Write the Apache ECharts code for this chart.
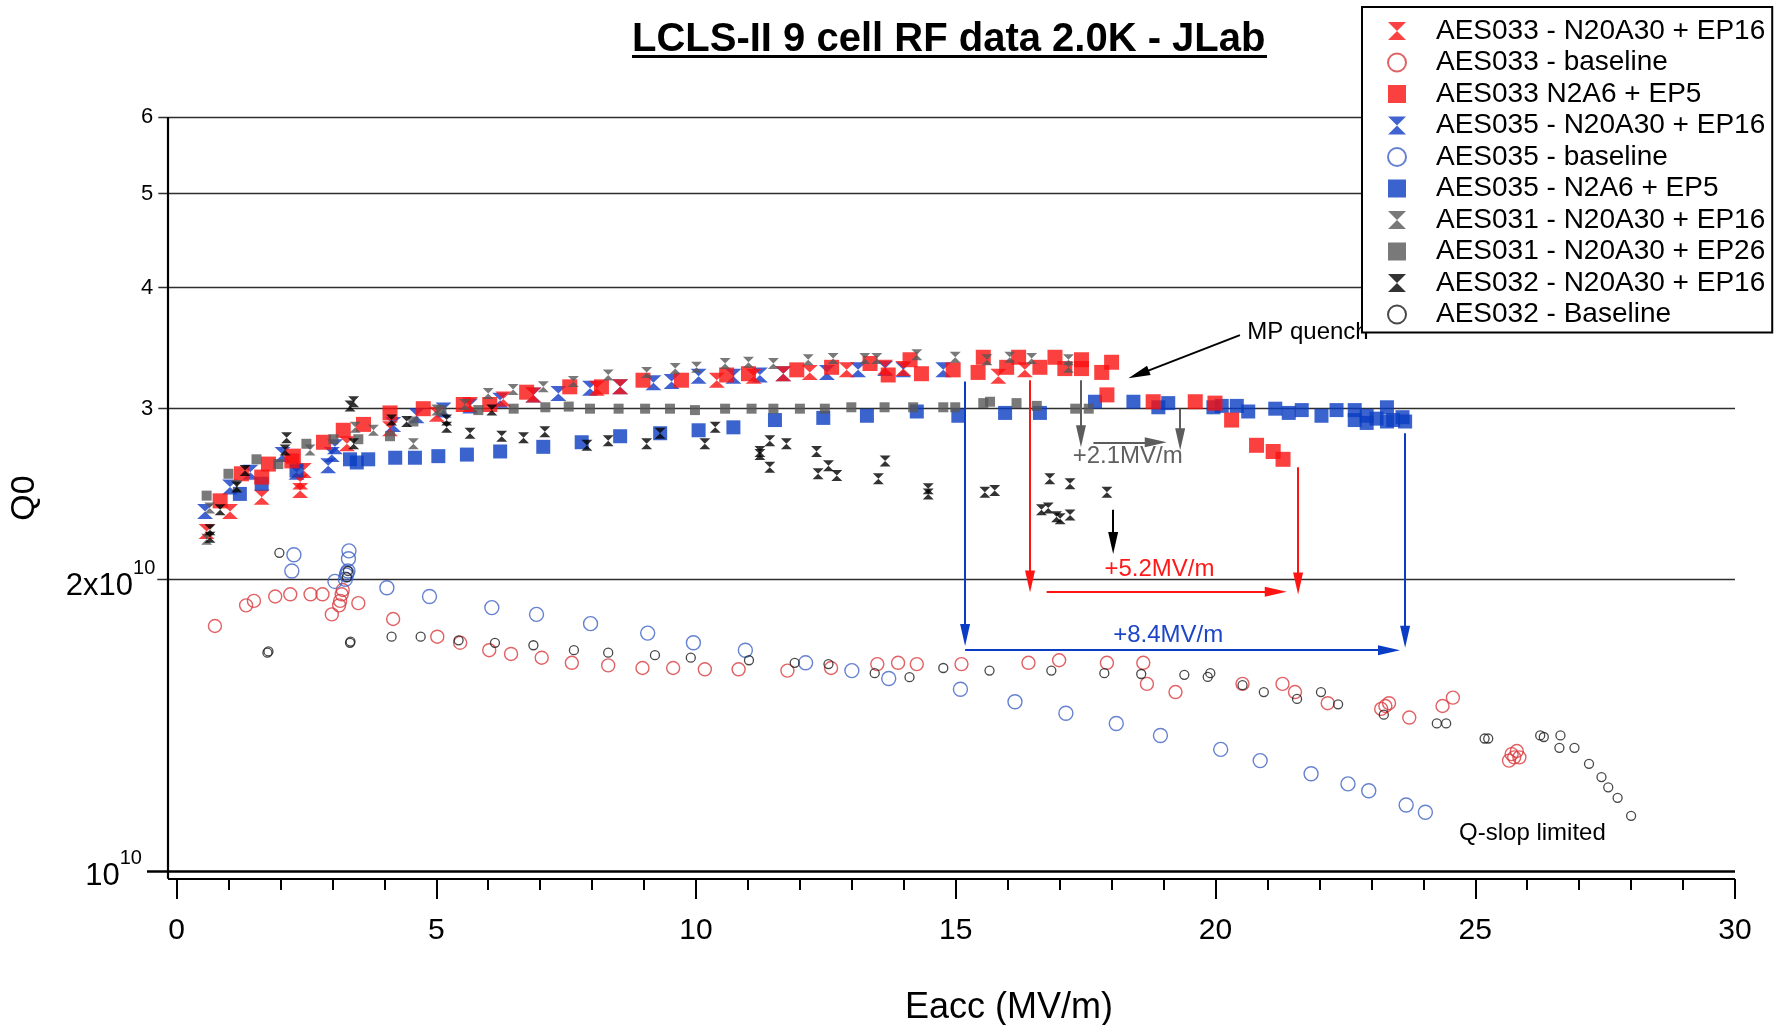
<!DOCTYPE html>
<html>
<head>
<meta charset="utf-8">
<title>LCLS-II 9 cell RF data 2.0K - JLab</title>
<script src="https://cdn.jsdelivr.net/npm/echarts@6/dist/echarts.min.js"></script>
<style>
  html, body { margin: 0; padding: 0; background: #fff; }
  #chart { width: 1786px; height: 1025px; }
</style>
</head>
<body>
<div id="chart"></div>
<script>
// ---- data: [Eacc (MV/m), Q0] ----
const aes033Ep16 = [[0.58,2.24e10],[1.03,2.35e10],[1.64,2.43e10],[2.38,2.47e10],[2.38,2.52e10],[2.45,2.59e10],[3.28,2.76e10],[4.11,2.86e10],[5.01,2.96e10],[5.65,3.03e10],[6.29,3.07e10],[6.87,3.10e10],[8.09,3.15e10],[8.54,3.16e10],[10.40,3.21e10],[11.11,3.24e10],[11.68,3.26e10],[12.19,3.27e10],[12.90,3.29e10],[13.64,3.31e10],[13.99,3.30e10],[15.82,3.24e10],[16.33,3.29e10]];

const aes033Base = [[0.74,1.79e10],[1.34,1.88e10],[1.49,1.90e10],[1.90,1.92e10],[2.19,1.93e10],[2.58,1.93e10],[2.81,1.93e10],[2.99,1.84e10],[3.13,1.88e10],[3.15,1.90e10],[3.18,1.93e10],[3.20,1.95e10],[3.50,1.89e10],[4.17,1.82e10],[5.02,1.745e10],[5.46,1.72e10],[6.02,1.69e10],[6.44,1.675e10],[7.03,1.66e10],[7.61,1.64e10],[8.31,1.63e10],[8.97,1.62e10],[9.56,1.62e10],[10.17,1.615e10],[10.82,1.615e10],[11.76,1.61e10],[12.60,1.62e10],[13.49,1.635e10],[13.89,1.64e10],[14.25,1.635e10],[15.11,1.635e10],[16.40,1.64e10],[16.99,1.65e10],[17.91,1.64e10],[18.61,1.64e10],[18.68,1.56e10],[19.23,1.53e10],[20.52,1.56e10],[21.29,1.56e10],[21.53,1.53e10],[22.16,1.49e10],[23.19,1.47e10],[23.27,1.48e10],[23.34,1.49e10],[23.73,1.44e10],[24.37,1.48e10],[24.57,1.51e10],[25.65,1.30e10],[25.70,1.32e10],[25.75,1.31e10],[25.80,1.33e10],[25.85,1.31e10]];

const aes033N2A6 = [[0.84,2.41e10],[1.25,2.57e10],[1.64,2.55e10],[1.77,2.63e10],[2.22,2.65e10],[2.25,2.68e10],[2.83,2.77e10],[3.21,2.85e10],[3.60,2.89e10],[4.11,2.97e10],[4.75,3.00e10],[5.52,3.03e10],[6.03,3.03e10],[6.74,3.12e10],[7.57,3.16e10],[8.18,3.16e10],[8.98,3.21e10],[9.72,3.21e10],[10.59,3.25e10],[11.01,3.26e10],[11.94,3.29e10],[12.61,3.31e10],[13.35,3.34e10],[13.70,3.25e10],[14.12,3.37e10],[14.34,3.26e10],[14.95,3.29e10],[15.43,3.27e10],[15.53,3.39e10],[15.98,3.31e10],[16.21,3.39e10],[16.62,3.31e10],[16.91,3.39e10],[17.10,3.30e10],[17.42,3.37e10],[17.42,3.30e10],[17.81,3.27e10],[18.00,3.35e10],[17.91,3.10e10],[18.80,3.05e10],[19.61,3.05e10],[19.99,3.04e10],[20.31,2.92e10],[20.79,2.75e10],[21.11,2.71e10],[21.30,2.66e10]];

const aes035Ep16 = [[0.55,2.35e10],[1.03,2.49e10],[1.42,2.58e10],[2.04,2.69e10],[2.31,2.58e10],[2.92,2.62e10],[2.99,2.69e10],[3.05,2.74e10],[4.17,2.89e10],[4.62,2.95e10],[5.14,2.99e10],[5.65,3.02e10],[6.23,3.06e10],[6.87,3.10e10],[7.35,3.11e10],[7.96,3.15e10],[8.54,3.16e10],[9.18,3.19e10],[9.53,3.20e10],[10.05,3.24e10],[10.72,3.24e10],[11.23,3.25e10],[11.68,3.26e10],[12.52,3.27e10],[13.12,3.29e10],[13.64,3.30e10],[13.99,3.29e10],[14.76,3.29e10]];

const aes035Base = [[2.26,2.12e10],[2.22,2.04e10],[3.05,1.99e10],[3.25,2.00e10],[3.27,2.02e10],[3.28,2.03e10],[3.30,2.04e10],[3.31,2.10e10],[3.32,2.14e10],[4.05,1.96e10],[4.87,1.92e10],[6.07,1.87e10],[6.93,1.84e10],[7.97,1.80e10],[9.07,1.76e10],[9.95,1.72e10],[10.95,1.69e10],[12.11,1.64e10],[13.00,1.61e10],[13.71,1.58e10],[15.09,1.54e10],[16.14,1.495e10],[17.12,1.455e10],[18.09,1.42e10],[18.94,1.38e10],[20.10,1.335e10],[20.86,1.30e10],[21.84,1.26e10],[22.55,1.23e10],[22.95,1.21e10],[23.67,1.17e10],[24.04,1.15e10]];

const aes035N2A6 = [[1.22,2.45e10],[1.64,2.51e10],[2.31,2.59e10],[3.34,2.66e10],[3.47,2.64e10],[3.69,2.66e10],[4.21,2.67e10],[4.59,2.67e10],[5.04,2.68e10],[5.59,2.69e10],[6.23,2.71e10],[7.06,2.74e10],[7.80,2.77e10],[8.54,2.81e10],[9.31,2.83e10],[10.05,2.85e10],[10.72,2.87e10],[11.52,2.92e10],[12.45,2.935e10],[13.29,2.95e10],[14.25,2.98e10],[15.05,2.95e10],[15.95,2.97e10],[16.62,2.97e10],[17.68,3.05e10],[18.42,3.05e10],[18.90,3.01e10],[19.09,3.04e10],[19.96,3.01e10],[20.12,3.02e10],[20.41,3.02e10],[20.63,2.98e10],[21.15,3.00e10],[21.41,2.97e10],[21.66,2.99e10],[22.04,2.95e10],[22.33,2.99e10],[22.68,2.99e10],[22.68,2.92e10],[22.91,2.95e10],[22.91,2.90e10],[23.10,2.93e10],[23.30,3.01e10],[23.30,2.91e10],[23.42,2.92e10],[23.60,2.94e10],[23.65,2.91e10]];

const aes031Ep16 = [[0.58,2.20e10],[0.64,2.37e10],[1.16,2.50e10],[2.57,2.72e10],[3.44,2.87e10],[3.79,2.85e10],[4.56,2.76e10],[5.01,2.99e10],[5.55,3.03e10],[6.00,3.11e10],[6.48,3.14e10],[7.06,3.16e10],[7.64,3.20e10],[8.31,3.25e10],[9.05,3.27e10],[9.60,3.30e10],[10.01,3.31e10],[10.56,3.34e10],[11.01,3.35e10],[11.49,3.34e10],[12.16,3.37e10],[12.64,3.38e10],[13.25,3.38e10],[13.48,3.38e10],[14.25,3.41e10],[14.99,3.39e10],[15.60,3.37e10],[16.04,3.39e10],[16.46,3.38e10],[17.17,3.37e10],[17.17,3.31e10]];

const aes031Ep26 = [[0.58,2.44e10],[1.00,2.57e10],[1.54,2.66e10],[1.96,2.63e10],[2.50,2.76e10],[3.02,2.79e10],[3.50,2.79e10],[4.11,2.81e10],[4.56,2.91e10],[5.10,2.99e10],[5.81,2.99e10],[6.49,3.00e10],[7.10,3.01e10],[7.55,3.015e10],[7.96,3.00e10],[8.51,3.00e10],[9.02,3.00e10],[9.50,3.00e10],[9.98,2.99e10],[10.56,3.00e10],[11.07,3.00e10],[11.49,3.00e10],[12.00,3.00e10],[12.48,3.00e10],[12.99,3.01e10],[13.63,3.01e10],[14.18,3.01e10],[14.76,3.01e10],[14.99,3.01e10],[15.53,3.04e10],[15.66,3.05e10],[16.17,3.04e10],[16.56,3.02e10],[17.30,3.00e10],[17.56,3.00e10]];

const aes032Ep16 = [[0.645,2.25e10],[0.645,2.21e10],[0.84,2.36e10],[1.16,2.49e10],[1.32,2.59e10],[2.12,2.80e10],[2.09,2.72e10],[3.34,3.02e10],[3.41,3.05e10],[3.41,2.76e10],[4.14,2.92e10],[4.43,2.91e10],[5.20,2.87e10],[5.20,2.92e10],[5.65,2.83e10],[6.07,2.99e10],[6.26,2.81e10],[6.68,2.80e10],[7.09,2.84e10],[7.90,2.75e10],[8.31,2.78e10],[9.05,2.76e10],[9.31,2.83e10],[10.17,2.76e10],[10.37,2.87e10],[11.23,2.71e10],[11.23,2.69e10],[11.42,2.78e10],[11.42,2.61e10],[11.74,2.76e10],[12.32,2.71e10],[12.35,2.57e10],[12.55,2.62e10],[12.71,2.56e10],[13.51,2.54e10],[13.64,2.65e10],[14.47,2.48e10],[14.47,2.45e10],[15.56,2.46e10],[15.75,2.47e10],[16.81,2.54e10],[17.20,2.51e10],[16.65,2.36e10],[16.78,2.37e10],[16.94,2.32e10],[17.01,2.31e10],[17.20,2.33e10],[17.91,2.46e10]];

const aes032Base = [[1.98,2.13e10],[1.75,1.68e10],[1.77,1.685e10],[3.30,2.04e10],[3.28,2.01e10],[3.34,1.72e10],[3.35,1.725e10],[4.14,1.745e10],[4.70,1.745e10],[5.43,1.73e10],[6.13,1.72e10],[6.87,1.71e10],[7.65,1.69e10],[8.31,1.68e10],[9.21,1.67e10],[9.90,1.66e10],[11.02,1.65e10],[11.90,1.64e10],[12.55,1.635e10],[13.44,1.60e10],[14.11,1.585e10],[14.76,1.62e10],[15.65,1.61e10],[16.84,1.61e10],[17.86,1.60e10],[18.57,1.597e10],[19.40,1.594e10],[19.85,1.586e10],[19.90,1.60e10],[20.52,1.555e10],[20.93,1.53e10],[21.57,1.505e10],[22.03,1.53e10],[22.36,1.486e10],[23.24,1.45e10],[24.26,1.42e10],[24.44,1.42e10],[25.18,1.37e10],[25.25,1.37e10],[26.25,1.38e10],[26.32,1.375e10],[26.64,1.38e10],[26.62,1.34e10],[26.91,1.34e10],[27.19,1.29e10],[27.43,1.25e10],[27.56,1.22e10],[27.74,1.19e10],[28.00,1.14e10]];

// ---- axis ticks ----
const yGridValues = [1e10, 2e10, 3e10, 4e10, 5e10, 6e10];
const yGridLabels = ['{m|10}{s|10}', '{m|2x10}{s|10}', '3', '4', '5', '6'];
const xMinorTicks = [0,1,2,3,4,5,6,7,8,9,10,11,12,13,14,15,16,17,18,19,20,21,22,23,24,25,26,27,28,29,30];
const xMajorTicks = [0,5,10,15,20,25,30];

// ---- annotations (Eacc, Q0); "to" is where the arrowhead sits, rot its heading ----
const arrows = [
  { color: '#0a3cc4', from: [15.18, 3.20e10], to: [15.18, 1.752e10], rot: 0 },
  { color: '#0a3cc4', from: [15.18, 1.69e10], to: [23.34, 1.69e10], rot: 90 },
  { color: '#0a3cc4', from: [23.65, 2.83e10], to: [23.65, 1.745e10], rot: 0 },
  { color: '#ff1414', from: [16.43, 3.21e10], to: [16.43, 1.99e10], rot: 0 },
  { color: '#ff1414', from: [16.75, 1.942e10], to: [21.16, 1.942e10], rot: 90 },
  { color: '#ff1414', from: [21.59, 2.61e10], to: [21.59, 1.98e10], rot: 0 },
  { color: '#5c5c5c', from: [17.41, 3.21e10], to: [17.41, 2.81e10], rot: 0 },
  { color: '#5c5c5c', from: [19.32, 3.00e10], to: [19.32, 2.79e10], rot: 0 },
  { color: '#5c5c5c', from: [17.65, 2.77e10], to: [18.85, 2.77e10], rot: 90 },
  { color: '#000000', from: [18.03, 2.36e10], to: [18.03, 2.18e10], rot: 0 },
  { color: '#000000', from: [20.47, 3.573e10], to: [18.52, 3.255e10], rot: -68.8 }
];
const notes = [
  { text: '+8.4MV/m', at: [19.09, 1.752e10], color: '#1c46c6' },
  { text: '+5.2MV/m', at: [18.92, 2.05e10], color: '#ff1a1a' },
  { text: '+2.1MV/m', at: [18.31, 2.68e10], color: '#606060' },
  { text: 'MP quench', at: [21.78, 3.60e10], color: '#000000' },
  { text: 'Q-slop limited', at: [26.1, 1.094e10], color: '#000000' }
];

const FONT = "'Liberation Sans', Arial, Helvetica, sans-serif";
const HOURGLASS = 'path://M0,0L10,0L5,5L10,10L0,10L5,5Z';
const SQUARE = 'path://M0,0L10,0L10,10L0,10Z';
const ARROWHEAD = 'path://M0,0L10,0L5,22Z';   // points down before rotation
const X_MIN = -0.6064, X_MAX = 30;
const Y_MIN = 0.98117e10, Y_MAX = 6e10;
const X_AXISLINE = -0.164;     // Eacc where the vertical axis line sits
const Y_AXISLINE = 0.9815e10;  // Q0 where the horizontal axis line sits

function pointSeries(name, data, symbol, size, itemStyle, z) {
  return {
    name, type: 'scatter', data, symbol, symbolSize: size,
    itemStyle, z, silent: true, animation: false
  };
}
const hollow = (c, w) => ({ color: 'rgba(0,0,0,0)', borderColor: c, borderWidth: w });

const series = [
  pointSeries('AES033 - baseline', aes033Base, 'circle', 13, hollow('#d93a3d', 1.4), 2),
  pointSeries('AES035 - baseline', aes035Base, 'circle', 14, hollow('#3f62c4', 1.4), 2),
  pointSeries('AES032 - Baseline', aes032Base, 'circle', 9, hollow('#1a1a1a', 1.3), 2),
  pointSeries('AES035 - N20A30 + EP16', aes035Ep16, HOURGLASS, [16, 15], { color: '#113cc6' }, 3),
  pointSeries('AES033 - N20A30 + EP16', aes033Ep16, HOURGLASS, [16, 15], { color: '#fa1212' }, 3),
  pointSeries('AES035 - N2A6 + EP5', aes035N2A6, SQUARE, 14, { color: '#0a3cc2' }, 3),
  pointSeries('AES033 N2A6 + EP5', aes033N2A6, SQUARE, 15, { color: '#fa1010' }, 3),
  pointSeries('AES031 - N20A30 + EP26', aes031Ep26, SQUARE, 10, { color: '#575757' }, 4),
  pointSeries('AES031 - N20A30 + EP16', aes031Ep16, HOURGLASS, [11, 11], { color: '#575757' }, 4),
  pointSeries('AES032 - N20A30 + EP16', aes032Ep16, HOURGLASS, [11, 11], { color: '#000000' }, 4)
];

// frame: grid lines with their outward ticks, axis lines, tick labels
const gridStart = [-0.568, -0.37, -0.35, -0.35, -0.35, -0.35];
const frameLines = yGridValues.map((v, i) => {
  const rich = i < 2;
  return [{
    coord: [gridStart[i], v],
    lineStyle: { color: i === 0 ? '#000' : '#2e2e2e', width: i === 0 ? 2.6 : 1.4, type: 'solid' },
    label: {
      show: true, position: 'start', distance: rich ? (i === 0 ? 5 : 2) : 5,
      formatter: yGridLabels[i], color: '#000', fontFamily: FONT, fontSize: 22,
      padding: rich ? [i === 0 ? 10 : 14, 0, 0, 0] : 0,
      rich: {
        m: { fontSize: 31, lineHeight: 56, fontFamily: FONT, color: '#000' },
        s: { fontSize: 20, lineHeight: 20, fontFamily: FONT, color: '#000', verticalAlign: 'top' }
      }
    }
  }, { coord: [X_MAX, v] }];
});
frameLines.push([{ coord: [X_AXISLINE, Y_AXISLINE], lineStyle: { color: '#000', width: 2.2, type: 'solid' }, label: { show: false } }, { coord: [X_AXISLINE, Y_MAX] }]);
frameLines.push([{ coord: [X_AXISLINE, Y_AXISLINE], lineStyle: { color: '#000', width: 2.2, type: 'solid' }, label: { show: false } }, { coord: [X_MAX, Y_AXISLINE] }]);

series.push({
  name: 'frame', type: 'scatter', data: [], silent: true, animation: false, z: 1,
  markLine: {
    silent: true, animation: false, z: 1, symbol: ['none', 'none'],
    data: frameLines
  }
});

// arrow shafts
series.push({
  name: 'arrows', type: 'scatter', data: [], silent: true, animation: false, z: 5,
  markLine: {
    silent: true, animation: false, z: 5,
    symbol: ['none', 'none'],
    label: { show: false },
    data: arrows.map(a => [
      { coord: a.from, lineStyle: { color: a.color, width: 2, type: 'solid' } },
      { coord: a.to }
    ])
  },
  // arrowheads
  markPoint: {
    silent: true, animation: false, z: 6,
    symbol: ARROWHEAD, symbolSize: [10, 22],
    label: { show: false },
    data: arrows.map(a => ({ coord: a.to, symbolRotate: a.rot, itemStyle: { color: a.color } }))
  }
});

// annotation texts (kept below the legend box)
series.push({
  name: 'notes', type: 'scatter', data: [], silent: true, animation: false, z: 3,
  markPoint: {
    silent: true, animation: false, z: 3,
    symbol: 'rect', symbolSize: 1, itemStyle: { color: 'rgba(0,0,0,0)' },
    label: { show: true, position: 'inside', fontFamily: FONT, fontSize: 24 },
    data: notes.map(n => ({ coord: n.at, label: { formatter: n.text, color: n.color } }))
  }
});

const chart = echarts.init(document.getElementById('chart'), null, { renderer: 'canvas' });
chart.setOption({
  backgroundColor: '#ffffff',
  animation: false,
  title: {
    text: 'LCLS-II 9 cell RF data 2.0K - JLab',
    left: 632, top: 20, padding: 0,
    textStyle: { fontFamily: FONT, fontSize: 40, fontWeight: 'bold', color: '#000' }
  },
  graphic: [{ type: 'rect', left: 632, top: 55, shape: { width: 635, height: 3 }, style: { fill: '#000' }, silent: true }],
  legend: {
    orient: 'vertical', left: 1362, top: 7, z: 10,
    padding: [10, 7, 4, 25], itemWidth: 68, itemHeight: 18, itemGap: 3.5,
    backgroundColor: '#ffffff', borderColor: '#000', borderWidth: 2,
    selectedMode: false,
    textStyle: { fontFamily: FONT, fontSize: 28, color: '#000' },
    data: ['AES033 - N20A30 + EP16', 'AES033 - baseline', 'AES033 N2A6 + EP5',
           'AES035 - N20A30 + EP16', 'AES035 - baseline', 'AES035 - N2A6 + EP5',
           'AES031 - N20A30 + EP16', 'AES031 - N20A30 + EP26', 'AES032 - N20A30 + EP16',
           'AES032 - Baseline']
  },
  grid: { left: 145, right: 51, top: 117, bottom: 146, containLabel: false, outerBoundsMode: 'none' },
  xAxis: [{
    type: 'value', min: X_MIN, max: X_MAX, position: 'bottom', offset: 0,
    axisLine: { show: false }, splitLine: { show: false },
    axisTick: { show: true, customValues: xMinorTicks, length: 11, lineStyle: { color: '#000', width: 2 } },
    axisLabel: { show: false },
    name: 'Eacc (MV/m)', nameLocation: 'middle', nameGap: 113,
    nameTextStyle: { fontFamily: FONT, fontSize: 36, lineHeight: 32, color: '#000', padding: [0, 0, 0, 138] }
  }, {
    type: 'value', min: X_MIN, max: X_MAX, position: 'bottom', offset: 0,
    axisLine: { show: false }, splitLine: { show: false },
    axisTick: { show: true, customValues: xMajorTicks, length: 20, lineStyle: { color: '#000', width: 2 } },
    axisLabel: { show: true, customValues: xMajorTicks, margin: 37, fontFamily: FONT, fontSize: 30, color: '#000' }
  }],
  yAxis: {
    type: 'log', min: Y_MIN, max: Y_MAX,
    axisLine: { show: false }, axisTick: { show: false }, axisLabel: { show: false }, splitLine: { show: false },
    name: 'Q0', nameLocation: 'middle', nameGap: 103,
    nameTextStyle: { fontFamily: FONT, fontSize: 34, color: '#000' }
  },
  series
});
</script>
</body>
</html>
